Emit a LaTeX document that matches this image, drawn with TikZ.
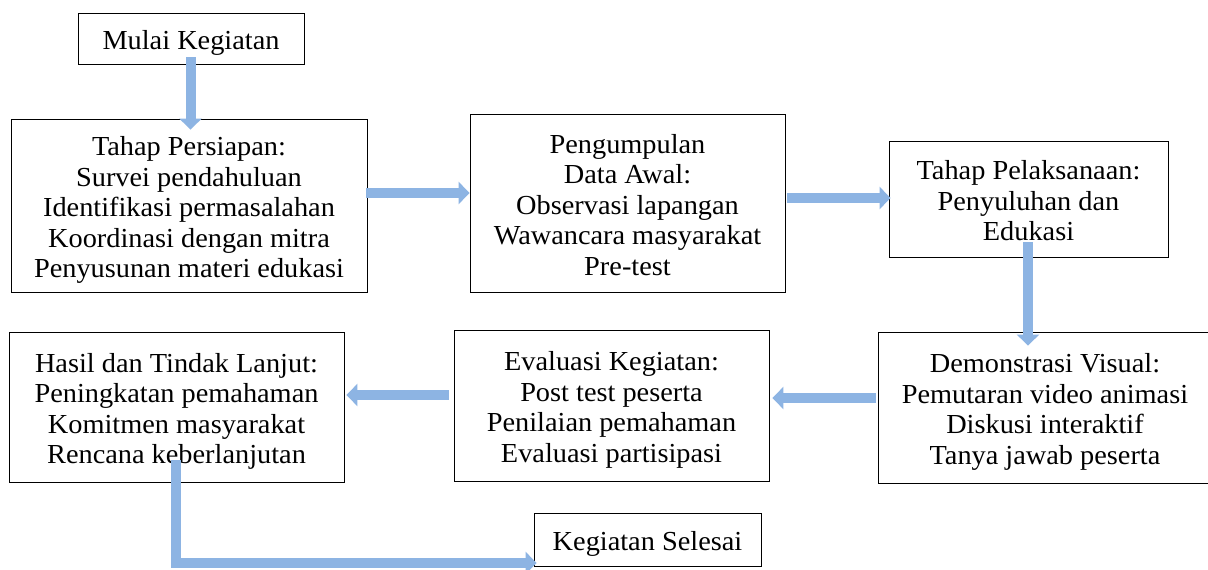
\documentclass[tikz,border=0pt]{standalone}
\usepackage{fontspec}
\setmainfont{Liberation Serif}[FakeStretch=1.03]
\usetikzlibrary{arrows.meta,calc}
\definecolor{arrowblue}{HTML}{8DB4E3}
\newcommand\tstr{\rule{0pt}{30pt}}
\newcommand\bstr{\rule[-8pt]{0pt}{8pt}}
\tikzset{
  box/.style={draw=black, line width=0.9pt, rectangle, inner sep=0pt, align=center,
    font=\fontsize{27.5}{30.5}\selectfont},
  blk/.style={draw=arrowblue, line width=10pt,
    -{Triangle[length=11pt 0 0, width=22pt 0 0]}}
}
\begin{document}
\begin{tikzpicture}[x=1pt,y=1pt]
\useasboundingbox (0,0) rectangle (1208,-570);
\clip (0,0) rectangle (1208,-570);
\fill[white] (0,0) rectangle (1208,-570);
\node[box, minimum width=226pt, minimum height=51pt] (m) at (191,-38.5) {\tstr Mulai Kegiatan\bstr};
\node[box, minimum width=356pt, minimum height=173pt] (p1) at (189,-205.5)
  {\tstr Tahap Persiapan:\\Survei pendahuluan\\Identifikasi permasalahan\\Koordinasi dengan mitra\\Penyusunan materi edukasi\bstr};
\node[box, minimum width=315pt, minimum height=178pt] (p2) at (627.5,-203)
  {\tstr Pengumpulan\\Data Awal:\\Observasi lapangan\\Wawancara masyarakat\\Pre-test\bstr};
\node[box, minimum width=279pt, minimum height=116pt] (p3) at (1028.5,-199)
  {\tstr Tahap Pelaksanaan:\\Penyuluhan dan\\Edukasi\bstr};
\node[box, minimum width=334pt, minimum height=151pt] (p4) at (1045,-407.5)
  {\tstr Demonstrasi Visual:\\Pemutaran video animasi\\Diskusi interaktif\\Tanya jawab peserta\bstr};
\node[box, minimum width=315pt, minimum height=151pt] (p5) at (611.5,-405.5)
  {\tstr Evaluasi Kegiatan:\\Post test peserta\\Penilaian pemahaman\\Evaluasi partisipasi\bstr};
\node[box, minimum width=335pt, minimum height=150pt] (p6) at (176.5,-407)
  {\tstr Hasil dan Tindak Lanjut:\\Peningkatan pemahaman\\Komitmen masyarakat\\Rencana keberlanjutan\bstr};
\node[box, minimum width=227pt, minimum height=53pt] (e) at (647.5,-539.5) {\tstr Kegiatan Selesai\bstr};
% connectors
\draw[blk] ($(m.south)+(-0.5,7)$) -- ($(p1.north)+(1.5,-11)$);
\draw[blk] ($(p1.east)+(-1,12.5)$) -- ($(p2.west)+(0,10)$);
\draw[blk] ($(p2.east)+(2,5)$) -- ($(p3.west)+(2,1)$);
\draw[blk] ($(p3.south)+(-0.5,15)$) -- ($(p4.north)+(-17,-14)$);
\draw[blk] ($(p4.west)+(-2,9.5)$) -- ($(p5.east)+(3,7.5)$);
\draw[blk] ($(p5.west)+(-5,10.5)$) -- ($(p6.east)+(2,12)$);
\draw[blk] ($(p6.south)+(-0.5,22)$) |- ($(e.west)+(3,-23.5)$);
\end{tikzpicture}
\end{document}
